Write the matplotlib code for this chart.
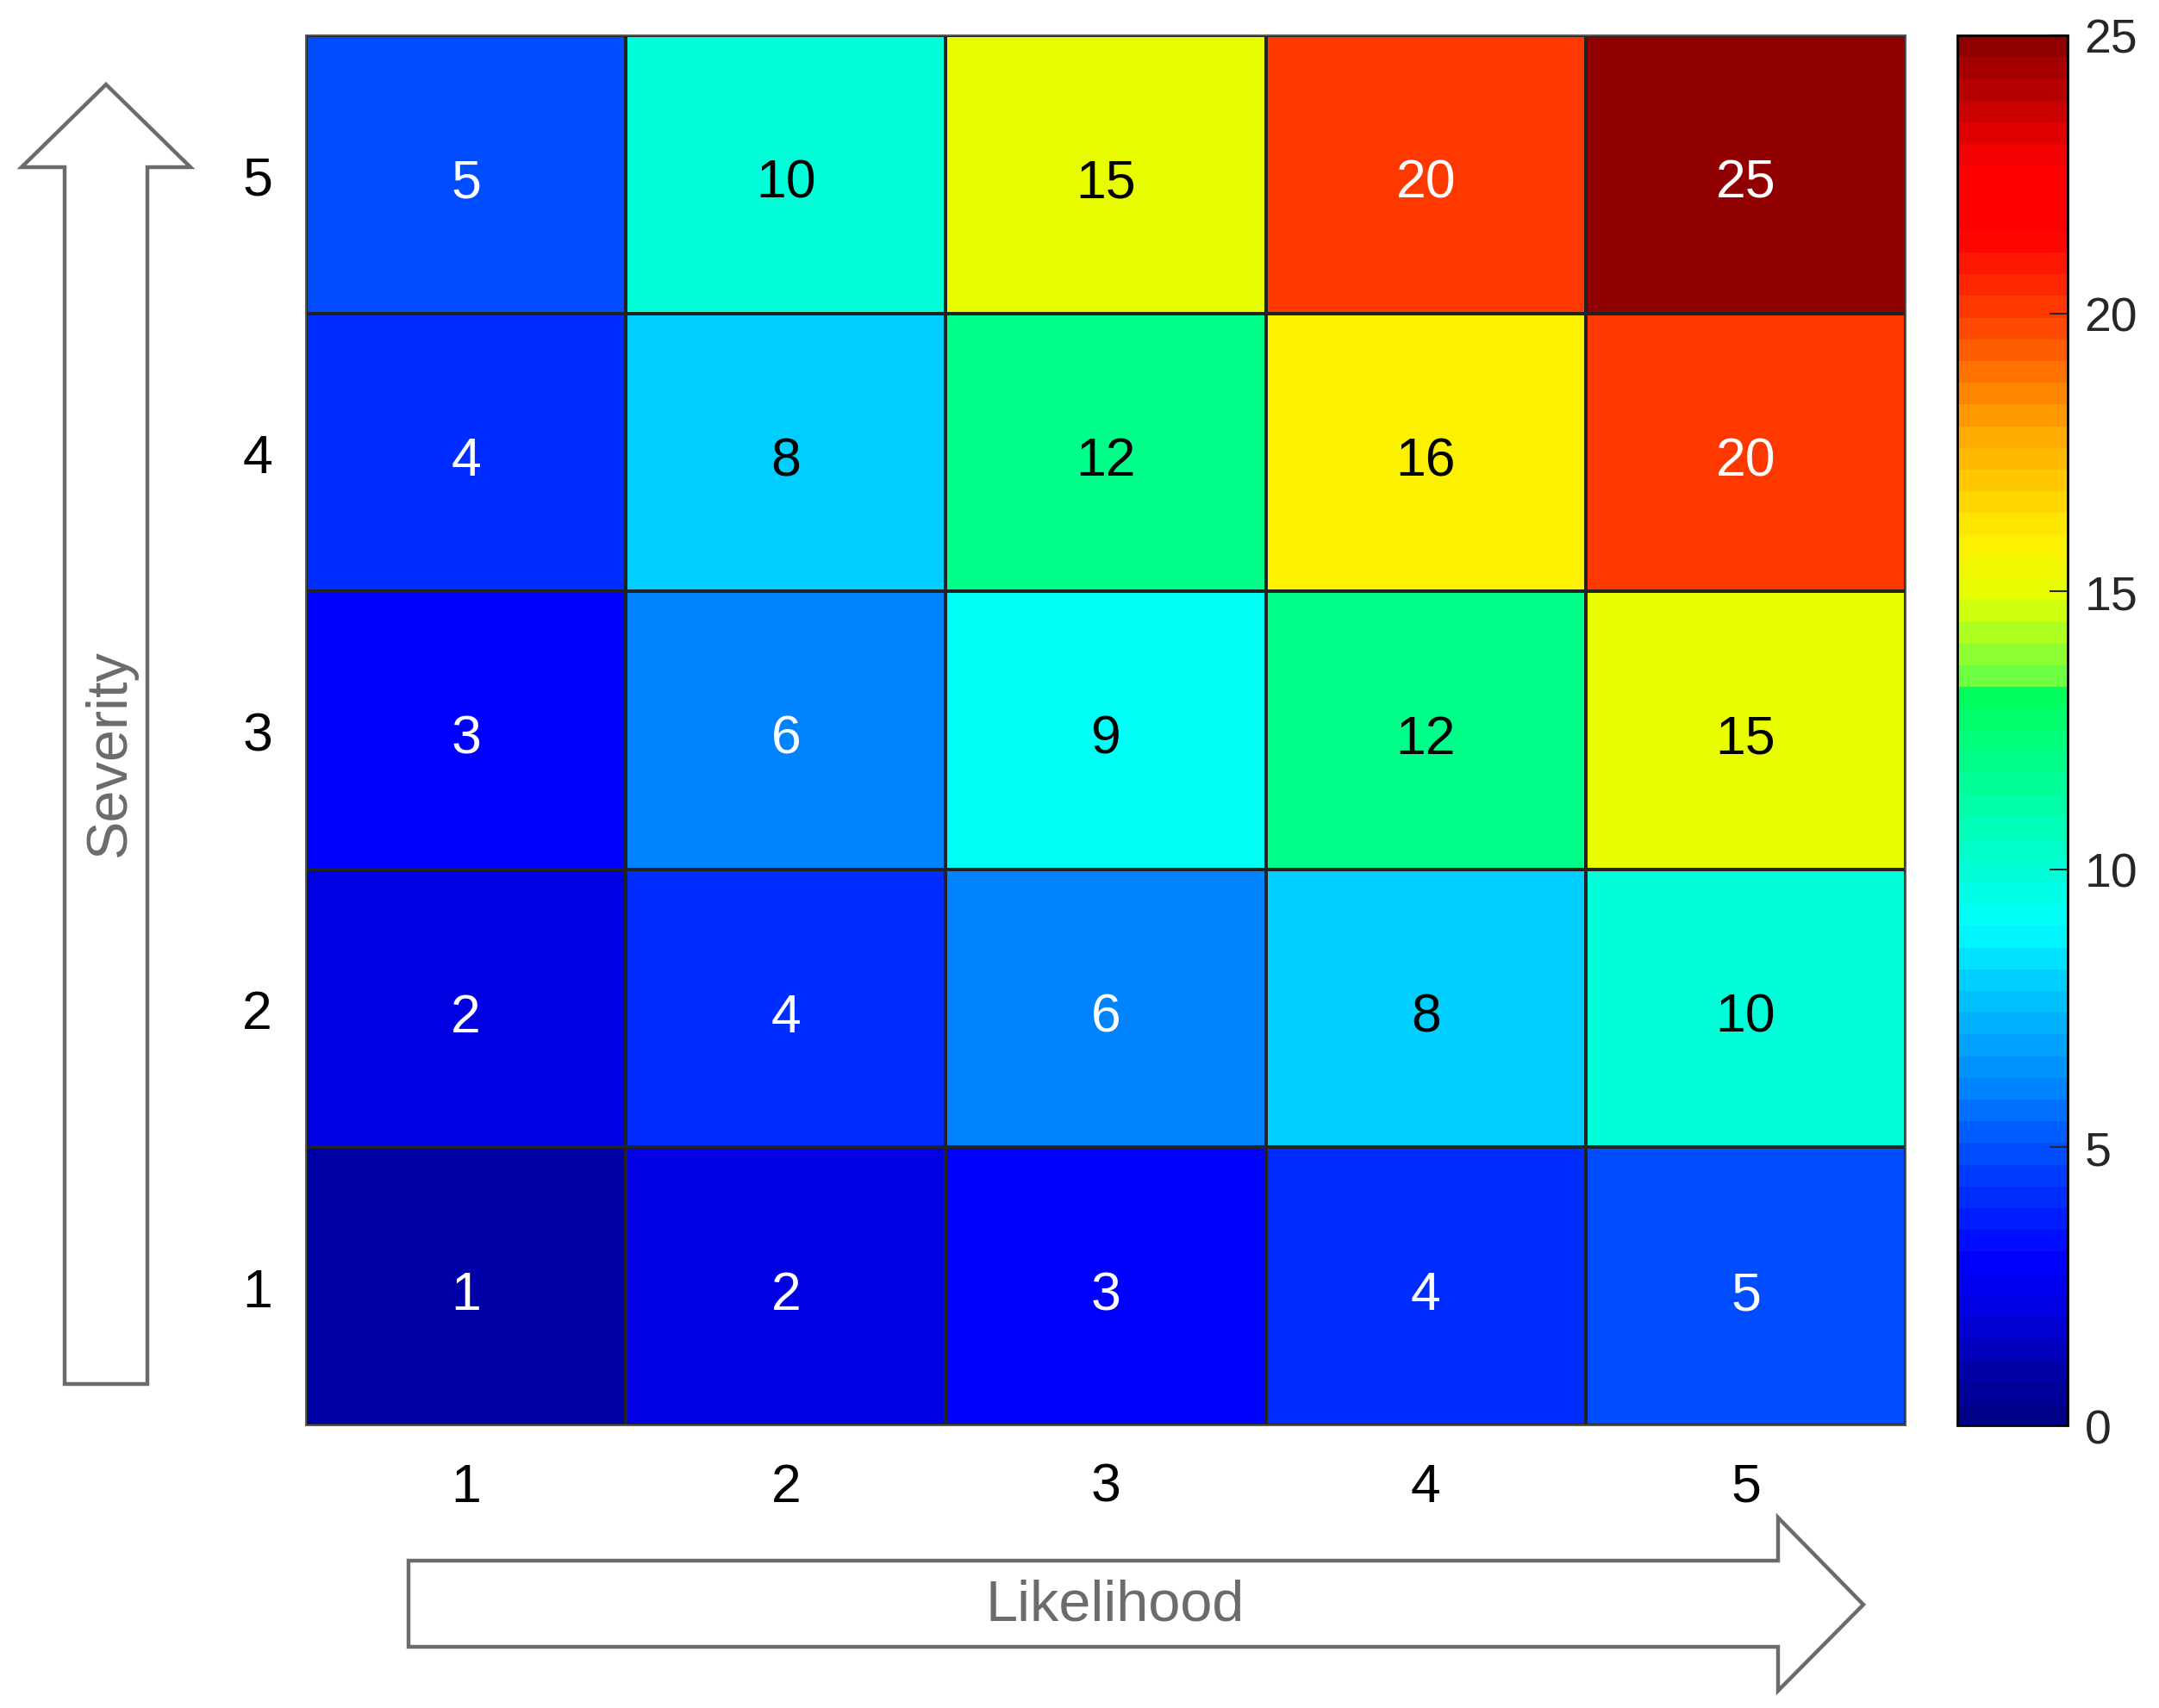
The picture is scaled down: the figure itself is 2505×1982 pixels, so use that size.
import numpy as np
import matplotlib
matplotlib.use("Agg")
import matplotlib.pyplot as plt
from matplotlib.patches import Polygon
from matplotlib.colors import LinearSegmentedColormap, ListedColormap
from matplotlib import font_manager

likelihood = [1, 2, 3, 4, 5]
severity = [1, 2, 3, 4, 5]
# rows: severity 1..5 (bottom to top), cols: likelihood 1..5
risk = [
    [1, 2, 3, 4, 5],
    [2, 4, 6, 8, 10],
    [3, 6, 9, 12, 15],
    [4, 8, 12, 16, 20],
    [5, 10, 15, 20, 25],
]
cbar_ticks = [0, 5, 10, 15, 20, 25]
x_label = "Likelihood"
y_label = "Severity"

# colour anchors of the (jet-like) colour scale
cmap_values = [0, 1, 2, 3, 4, 5, 6, 8, 9, 10, 12, 13.2, 13.3, 15, 16, 18, 20, 21.5, 22.7, 24.8, 25]
cmap_colors = ['#000080', '#0000AA', '#0000DD', '#0000FF', '#0028FF', '#0050FF', '#0080FF',
               '#00CCFF', '#00FFFF', '#00FFD8', '#00FF88', '#00FF5C', '#5AFF4C', '#E6FF00',
               '#FFF000', '#FFA500', '#FF4000', '#FF0000', '#FF0000', '#950000', '#8C0000']

W, H = 2505, 1983
fig = plt.figure(figsize=(W / 100, H / 100), dpi=100)
plt.rcParams['font.family'] = ['Liberation Sans', 'DejaVu Sans']

avail = {f.name for f in font_manager.fontManager.ttflist}
narrow = 'Liberation Sans Narrow' if 'Liberation Sans Narrow' in avail else 'Liberation Sans'


def fx(x):
    return x / W


def fy(y):
    return 1 - y / H


vmin, vmax = cbar_ticks[0], cbar_ticks[-1]
base = LinearSegmentedColormap.from_list(
    'riskjet', [((v - vmin) / (vmax - vmin), c) for v, c in zip(cmap_values, cmap_colors)])
nlev = 64
cmap = ListedColormap(base((np.arange(nlev) + 0.5) / nlev))

ax = fig.add_axes([fx(355), fy(1655), fx(2211) - fx(355), fy(42) - fy(1655)])
cax = fig.add_axes([fx(2271), fy(1655), fx(2399) - fx(2271), fy(42) - fy(1655)])

Z = np.array(risk, dtype=float)
xe = np.arange(len(likelihood) + 1) + 0.5
ye = np.arange(len(severity) + 1) + 0.5
mesh = ax.pcolormesh(xe, ye, Z, cmap=cmap, vmin=vmin, vmax=vmax,
                     edgecolors='#222222', linewidth=1.6)
ax.set_xlim(0.5, 5.5)
ax.set_ylim(0.5, 5.5)
ax.set_xticks(likelihood)
ax.set_yticks(severity)
ax.set_xticklabels([str(v) for v in likelihood])
ax.set_yticklabels([str(v) for v in severity])
ax.tick_params(axis='both', length=0, labelsize=45, colors='black')
ax.tick_params(axis='x', pad=30)
ax.tick_params(axis='y', pad=28)
for s in ax.spines.values():
    s.set_color('#555555')
    s.set_linewidth(1.4)

for i, sv in enumerate(severity):
    for j, lv in enumerate(likelihood):
        v = risk[i][j]
        col = 'white' if (v <= 6 or v >= 20) else 'black'
        ax.text(lv, sv - 0.082, str(v), ha='center', va='baseline', fontsize=45, color=col)

cb = fig.colorbar(mesh, cax=cax, ticks=cbar_ticks)
cb.outline.set_linewidth(2)
cb.outline.set_edgecolor('black')
cax.tick_params(axis='y', direction='in', length=15, width=1.5, labelsize=40,
                labelcolor='#262626', color='#262626', pad=14)

# Decorative arrows (figure pixel coordinates)
gray = '#6b6b6b'
up = [(75, 1607), (75, 195), (25, 195), (123, 99), (221, 195), (171, 195), (171, 1607)]
right = [(474, 1812), (2063, 1812), (2063, 1762), (2162, 1863), (2063, 1963),
         (2063, 1912), (474, 1912)]
for pts in (up, right):
    fig.patches.append(Polygon([(fx(x), fy(y)) for x, y in pts], closed=True,
                               transform=fig.transFigure, facecolor='white',
                               edgecolor=gray, linewidth=3.2, joinstyle='miter'))

fig.text(fx(128), fy(875), y_label, rotation=90, ha='center', va='center',
         fontsize=48, color=gray, family=[narrow, 'DejaVu Sans'])
fig.text(fx(1294), fy(1864), x_label, ha='center', va='center',
         fontsize=48, color=gray, family=[narrow, 'DejaVu Sans'])

fig.savefig('out.png', dpi=100, facecolor='white')
